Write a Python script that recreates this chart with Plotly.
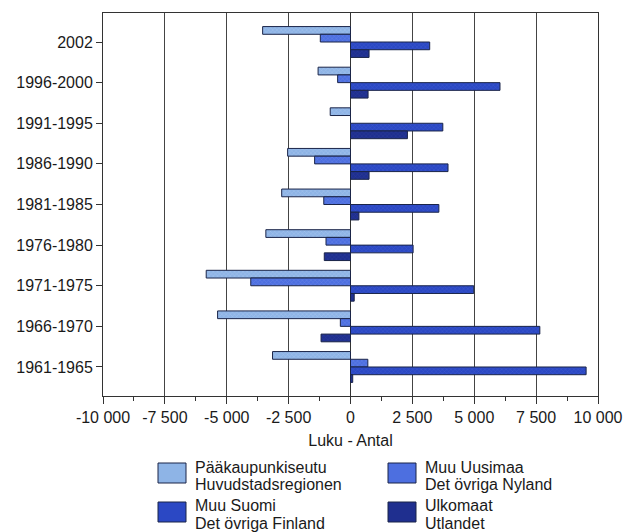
import plotly.graph_objects as go

categories = ["2002", "1996-2000", "1991-1995", "1986-1990", "1981-1985",
              "1976-1980", "1971-1975", "1966-1970", "1961-1965"]
paakaupunki = [-3550, -1310, -820, -2540, -2780, -3420, -5830, -5370, -3150]
muu_uusimaa = [-1220, -520, 0, -1450, -1080, -990, -4030, -410, 700]
muu_suomi = [3200, 6040, 3730, 3940, 3570, 2530, 4980, 7650, 9520]
ulkomaat = [750, 710, 2300, 750, 340, -1060, 150, -1190, 90]

series_names = [["Pääkaupunkiseutu", "Huvudstadsregionen"],
                ["Muu Uusimaa", "Det övriga Nyland"],
                ["Muu Suomi", "Det övriga Finland"],
                ["Ulkomaat", "Utlandet"]]
series_values = [paakaupunki, muu_uusimaa, muu_suomi, ulkomaat]
colors = ["#8eb4e6", "#4d6fe0", "#2b48c4", "#1f2f8f"]
pattern_colors = ["#b8d0f0", "#7b95ea", "#4a64d4", "#34469f"]

tick_vals = [-10000, -7500, -5000, -2500, 0, 2500, 5000, 7500, 10000]
tick_text = ["-10 000", "-7 500", "-5 000", "-2 500", "0", "2 500", "5 000", "7 500", "10 000"]
x_title = "Luku - Antal"

FONT = "Liberation Sans, Arial, sans-serif"
W, H = 627, 532
L, R, T, B = 103, 29, 13, 136
pw, ph = W - L - R, H - T - B

fig = go.Figure()
for names, vals, c, pc in zip(series_names, series_values, colors, pattern_colors):
    fig.add_trace(go.Bar(
        y=categories, x=vals, orientation="h",
        name=" ".join(names),
        marker=dict(color=c, line=dict(color="#1a2448", width=1),
                    pattern=dict(shape="x", size=3, solidity=0.25,
                                 fgcolor=pc, fgopacity=0.6)),
        showlegend=False,
    ))

# custom legend (two columns, two rows)
def px_x(px):
    return (px - L) / pw

def px_y(py):
    return (H - B - py) / ph

legend_pos = [(158, 463), (388, 463), (158, 502), (388, 502)]
shapes = []
annotations = []
for (sx, sy), names, c in zip(legend_pos, series_names, colors):
    shapes.append(dict(type="rect", xref="paper", yref="paper",
                       x0=px_x(sx), x1=px_x(sx + 28), y0=px_y(sy), y1=px_y(sy + 20),
                       fillcolor=c, line=dict(color="#1a2448", width=1)))
    for i, txt in enumerate(names):
        annotations.append(dict(xref="paper", yref="paper", x=px_x(sx + 35),
                                y=px_y(sy + 4 + 17 * i), text=txt, showarrow=False,
                                xanchor="left", yanchor="middle",
                                font=dict(family=FONT, size=16, color="#1a1a1a")))

fig.update_layout(
    width=W, height=H,
    margin=dict(l=L, r=R, t=T, b=B, pad=0, autoexpand=False),
    paper_bgcolor="white", plot_bgcolor="white",
    barmode="group", bargap=0.24, bargroupgap=0,
    font=dict(family=FONT, size=16, color="#1a1a1a"),
    shapes=shapes, annotations=annotations,
    xaxis=dict(range=[-10000, 10000], tickvals=tick_vals, ticktext=tick_text,
               automargin=False,
               showgrid=True, gridcolor="#444", gridwidth=1,
               zeroline=True, zerolinecolor="#333", zerolinewidth=1,
               showline=True, linecolor="#333", linewidth=1, mirror=True,
               ticks="outside", ticklen=7, tickcolor="#333",
               minor=dict(dtick=1250, tick0=0, ticks="outside", ticklen=4,
                          tickcolor="#333", showgrid=False),
               tickfont=dict(size=16),
               title=dict(text=x_title, font=dict(size=16), standoff=9)),
    yaxis=dict(type="category", categoryorder="array", categoryarray=categories,
               range=[8.714, -0.714], autorange=False, showgrid=False,
               automargin=False,
               showline=True, linecolor="#333", linewidth=1, mirror=True,
               ticks="outside", ticklen=6, tickcolor="#333",
               tickfont=dict(size=16)),
)

fig.write_html(
    "out.html",
    config={"displayModeBar": False},
    post_script="document.body.style.margin='0';document.body.style.overflow='hidden';",
)
